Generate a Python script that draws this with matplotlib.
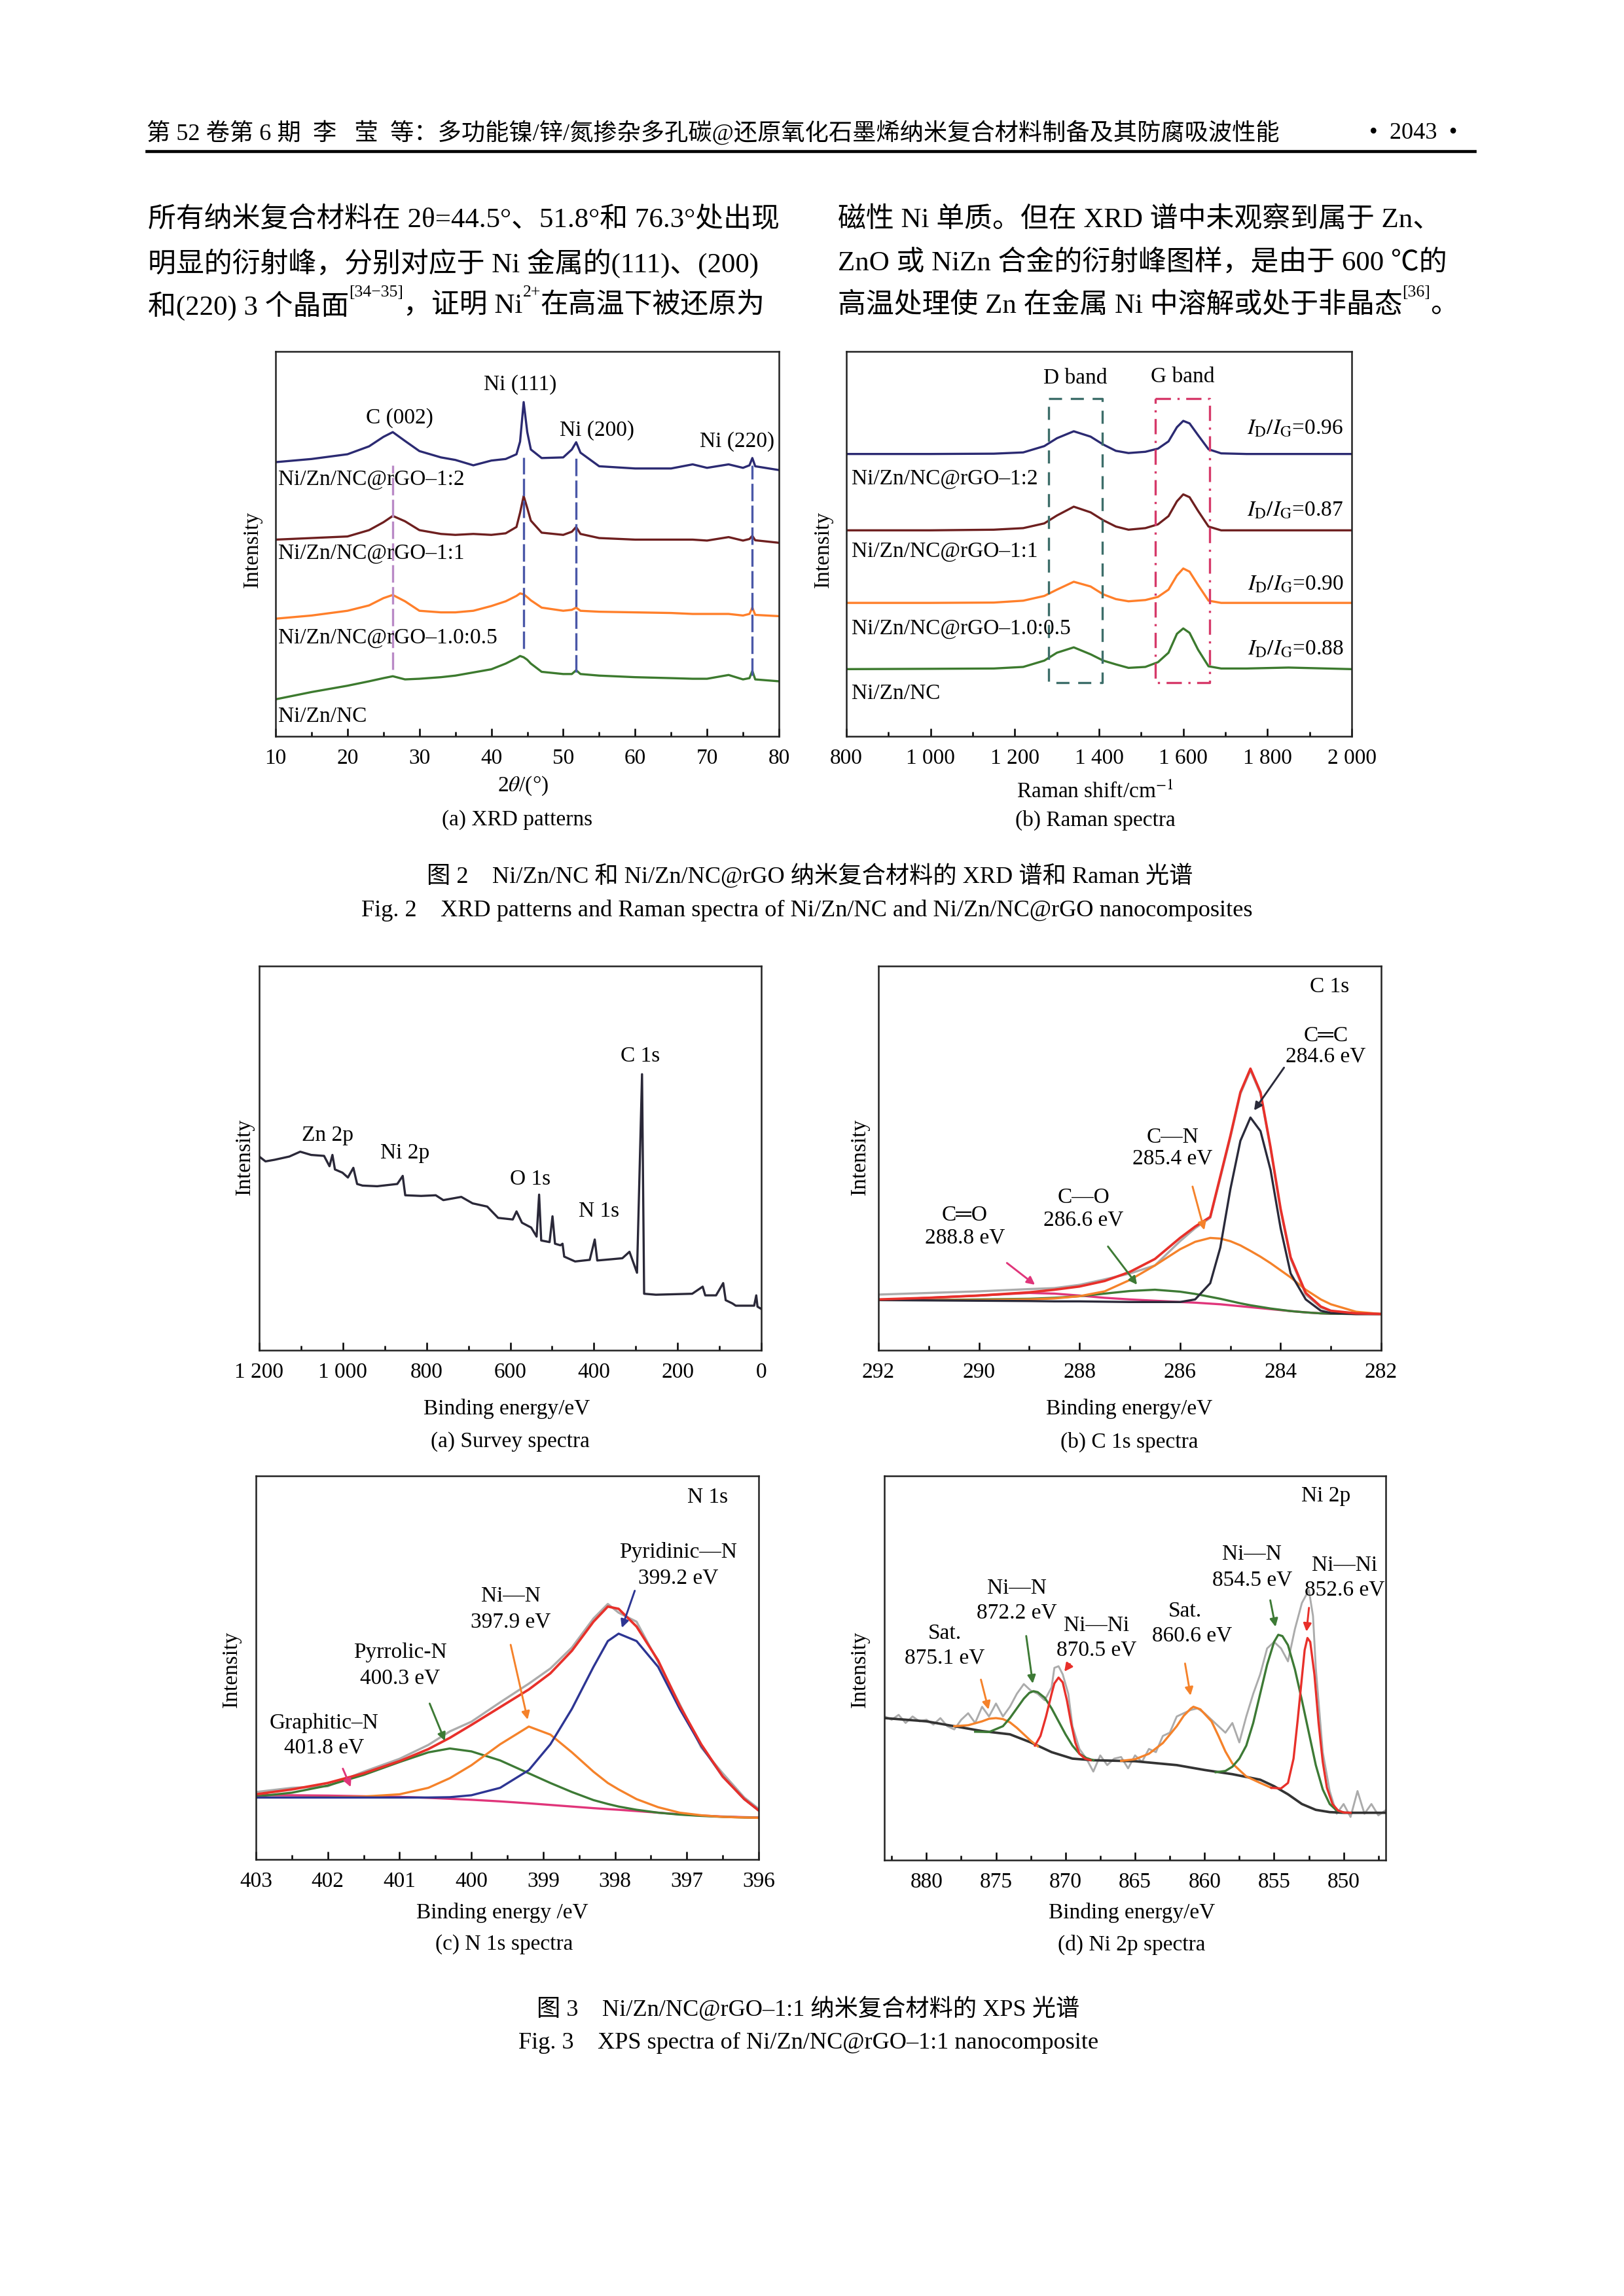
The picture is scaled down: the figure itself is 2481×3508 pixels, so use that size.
import matplotlib
matplotlib.use('Agg')
import matplotlib.pyplot as plt

plt.rcParams['font.family'] = ['Liberation Serif', 'Noto Sans CJK SC', 'DejaVu Sans']
plt.rcParams['mathtext.fontset'] = 'stix'

W, H = 2481, 3508

# ---------------- page text ----------------
header_left = '第 52 卷第 6 期  李   莹  等：多功能镍/锌/氮掺杂多孔碳@还原氧化石墨烯纳米复合材料制备及其防腐吸波性能'
header_right = '•  2043  •'

body_left = [
    [('所有纳米复合材料在 2θ=44.5°、51.8°和 76.3°处出现', False)],
    [('明显的衍射峰，分别对应于 Ni 金属的(111)、(200)', False)],
    [('和(220) 3 个晶面', False), ('[34−35]', True), ('，证明 Ni', False), ('2+', True), ('在高温下被还原为', False)],
]
body_right = [
    [('磁性 Ni 单质。但在 XRD 谱中未观察到属于 Zn、', False)],
    [('ZnO 或 NiZn 合金的衍射峰图样，是由于 600 ℃的', False)],
    [('高温处理使 Zn 在金属 Ni 中溶解或处于非晶态', False), ('[36]', True), ('。', False)],
]

cap2_cn = '图 2    Ni/Zn/NC 和 Ni/Zn/NC@rGO 纳米复合材料的 XRD 谱和 Raman 光谱'
cap2_en = 'Fig. 2    XRD patterns and Raman spectra of Ni/Zn/NC and Ni/Zn/NC@rGO nanocomposites'
cap3_cn = '图 3    Ni/Zn/NC@rGO–1:1 纳米复合材料的 XPS 光谱'
cap3_en = 'Fig. 3    XPS spectra of Ni/Zn/NC@rGO–1:1 nanocomposite'

samples = ['Ni/Zn/NC@rGO–1:2', 'Ni/Zn/NC@rGO–1:1', 'Ni/Zn/NC@rGO–1.0:0.5', 'Ni/Zn/NC']
sample_colors = ['#2b2a72', '#6e1f1f', '#ff7f2a', '#3c7a2e']

# ---------------- XRD (a.u.) ----------------
xrd_2theta = [10, 15, 20, 23, 25, 26.3, 28, 30, 33, 35, 37.5, 40, 42, 43.5, 44.0, 44.5, 45.0,
              45.5, 47, 50, 51.2, 51.8, 52.4, 55, 60, 65, 68, 70, 73, 75, 75.9, 76.3, 76.7, 80]
xrd_12 = [867, 877, 892, 917, 947, 962, 934, 902, 882, 874, 857, 872, 877, 892, 932, 1057, 962,
          907, 880, 882, 907, 930, 897, 854, 847, 847, 860, 849, 860, 849, 857, 880, 854, 842]
xrd_11 = [622, 627, 632, 652, 677, 697, 680, 652, 640, 637, 640, 637, 642, 662, 707, 760, 722,
          682, 644, 637, 647, 662, 640, 627, 622, 622, 622, 619, 630, 619, 624, 634, 620, 612]
xrd_105 = [372, 382, 397, 414, 437, 447, 427, 397, 392, 392, 397, 412, 427, 444, 452, 449, 440,
           430, 407, 397, 400, 407, 397, 394, 392, 390, 387, 387, 387, 382, 387, 407, 384, 380]
xrd_nc = [117, 140, 160, 174, 184, 190, 180, 182, 187, 192, 202, 212, 230, 247, 254, 250, 242,
          230, 204, 197, 197, 209, 197, 192, 187, 184, 182, 182, 194, 180, 184, 207, 180, 174]
xrd_peaks = [26.3, 44.5, 51.8, 76.3]
xrd_peak_names = ['C (002)', 'Ni (111)', 'Ni (200)', 'Ni (220)']

# ---------------- Raman (a.u.) ----------------
raman_shift = [800, 1000, 1150, 1220, 1270, 1300, 1340, 1380, 1410, 1440, 1470, 1510,
               1540, 1565, 1585, 1600, 1615, 1635, 1660, 1690, 1750, 1850, 2000]
raman_12 = [895, 895, 896, 900, 920, 945, 967, 950, 925, 905, 898, 902,
            912, 935, 980, 1000, 992, 955, 910, 897, 895, 895, 895]
raman_11 = [653, 653, 655, 660, 675, 700, 728, 710, 685, 665, 655, 660,
            672, 698, 745, 767, 758, 715, 665, 653, 653, 653, 653]
raman_105 = [423, 423, 424, 430, 445, 465, 490, 475, 450, 435, 428, 432,
             442, 465, 510, 532, 522, 480, 430, 423, 423, 423, 423]
raman_nc = [213, 214, 215, 220, 240, 265, 282, 260, 240, 228, 217, 220,
            235, 265, 325, 342, 328, 275, 222, 215, 215, 218, 213]
id_ig = ['0.96', '0.87', '0.90', '0.88']
d_band = [1280, 1408]
g_band = [1534, 1663]

# ---------------- XPS survey ----------------
survey_be = [1200, 1185, 1163, 1128, 1102, 1076, 1045, 1032, 1025, 1019, 1001, 988, 975, 966, 953,
             918, 870, 857, 851, 813, 778, 760, 717, 690, 655, 629, 594, 585, 572, 550, 537, 531,
             526, 506, 499, 493, 480, 475, 471, 445, 410, 398, 392, 357, 332, 315, 297, 285, 280,
             252, 165, 140, 134, 108, 91, 85, 69, 61, 17, 12, 9, 0]
survey_int = [600, 585, 590, 600, 615, 605, 602, 570, 605, 560, 550, 535, 565, 515, 510,
              508, 515, 540, 480, 478, 480, 465, 475, 455, 445, 410, 405, 430, 395, 380, 352, 482,
              340, 335, 415, 330, 325, 330, 290, 275, 280, 343, 278, 282, 285, 305, 240, 855, 175,
              172, 175, 197, 170, 170, 208, 155, 145, 138, 138, 170, 135, 128]

# ---------------- C 1s ----------------
c1s_be = [292, 291, 290, 289, 288.5, 288, 287.5, 287, 286.5, 286, 285.7, 285.4, 285.2, 285,
          284.8, 284.6, 284.4, 284.2, 284, 283.8, 283.5, 283.2, 283, 282.5, 282]
c1s_raw = [172, 177, 182, 189, 192, 202, 219, 237, 262, 337, 377, 409, 532, 657,
           792, 865, 792, 622, 432, 282, 172, 132, 121, 113, 112]
c1s_fit = [157, 162, 169, 179, 187, 197, 214, 242, 282, 347, 382, 412, 537, 662,
           797, 870, 797, 627, 437, 287, 177, 135, 122, 114, 112]
c1s_cc = [155, 154, 153, 152, 151, 151, 150, 149, 149, 149, 157, 207, 317, 497,
          647, 719, 677, 557, 377, 237, 157, 122, 115, 112, 112]
c1s_cn = [155, 155, 155, 157, 160, 167, 182, 217, 262, 312, 335, 347, 345, 337,
          324, 307, 289, 269, 247, 225, 187, 157, 142, 119, 112]
c1s_co = [155, 155, 157, 159, 162, 167, 175, 183, 187, 181, 174, 165, 159, 152,
          145, 139, 134, 129, 125, 121, 117, 114, 113, 112, 112]
c1s_c_o = [155, 162, 169, 177, 175, 169, 162, 157, 153, 149, 147, 144, 142, 139,
           136, 133, 130, 127, 124, 121, 117, 114, 113, 112, 112]

# ---------------- N 1s ----------------
n1s_be = [403, 402.5, 402, 401.5, 401, 400.6, 400.3, 400, 399.6, 399.2, 398.9, 398.6, 398.3,
          398.1, 397.95, 397.7, 397.4, 397.1, 396.8, 396.5, 396.2, 396]
n1s_raw = [209, 222, 227, 272, 312, 355, 397, 427, 487, 545, 592, 657, 747,
           792, 765, 737, 612, 482, 347, 267, 192, 157]
n1s_fit = [202, 217, 237, 267, 305, 342, 377, 417, 472, 527, 577, 647, 737,
           784, 777, 722, 617, 477, 357, 257, 187, 152]
n1s_pyridinic = [192, 192, 192, 192, 192, 192, 193, 199, 222, 277, 357, 467, 597,
                 677, 700, 677, 597, 467, 352, 257, 187, 152]
n1s_nin = [192, 192, 193, 195, 202, 222, 252, 292, 357, 412, 387, 332, 272,
           237, 217, 187, 162, 145, 137, 132, 130, 129]
n1s_pyrrolic = [195, 207, 229, 262, 302, 332, 344, 335, 307, 267, 237, 209, 184,
                172, 164, 154, 145, 139, 135, 132, 130, 129]
n1s_graphitic = [200, 199, 198, 196, 194, 191, 188, 185, 180, 174, 169, 164, 159,
                 156, 154, 150, 145, 140, 136, 133, 131, 130]

# ---------------- Ni 2p ----------------
ni_raw_be = [883, 882.5, 882, 881.5, 881, 880.5, 880, 879.5, 879, 878.5, 878, 877.5, 877, 876.5,
             876, 875.5, 875, 874.5, 874, 873.5, 873, 872.5, 872, 871.5, 871, 870.8, 870.5, 870.2,
             869.8, 869.5, 869, 868.5, 868, 867.5, 867, 866.5, 866, 865.5, 865, 864.5, 864, 863.5,
             863, 862.5, 862, 861.5, 861, 860.5, 860, 859.5, 859, 858.5, 858, 857.5, 857, 856.5,
             856, 855.5, 855, 854.5, 854, 853.5, 853, 852.5, 852.2, 852, 851.5, 851, 850.5, 850,
             849.5, 849, 848.5, 848, 847.5, 847]
ni_raw = [443, 433, 448, 423, 443, 428, 433, 418, 438, 413, 403, 433, 453, 423,
          473, 443, 483, 443, 473, 513, 543, 523, 513, 493, 533, 593, 598, 573,
          513, 413, 343, 313, 273, 323, 293, 313, 318, 283, 323, 303, 343, 333,
          383, 393, 443, 453, 463, 468, 453, 433, 413, 393, 423, 363, 443, 513,
          573, 653, 673, 653, 613, 713, 793, 833, 753, 593, 333, 213, 143, 173,
          133, 213, 143, 173, 138, 153]
ni_bg_be = [883, 880, 878, 876, 874, 872.5, 871, 869.5, 868, 865, 862, 860, 858, 856, 855,
            854, 853, 852, 851, 850, 847]
ni_bg = [438, 428, 413, 398, 388, 363, 333, 313, 308, 305, 293, 278, 265, 248, 228,
         203, 173, 155, 148, 146, 146]
sat1_be = [878, 877, 876, 875.5, 875, 874.5, 874, 873.5, 873, 872.5, 872]
sat1 = [413, 416, 428, 436, 438, 435, 425, 408, 388, 368, 351]
sat2_be = [866, 865, 864, 863, 862, 861.5, 861, 860.8, 860.3, 859.5, 859, 858.5, 858, 857, 856, 855.2]
sat2 = [306, 311, 328, 361, 413, 445, 467, 473, 465, 428, 383, 335, 298, 258, 238, 223]
nin1_be = [876.5, 875.5, 874.5, 874, 873.5, 873, 872.6, 872.3, 872, 871.5, 871, 870.5, 870,
           869.5, 869, 868.5, 868]
nin1 = [396, 395, 413, 438, 468, 498, 516, 521, 518, 501, 468, 428, 388, 353, 328, 315, 308]
nini1_be = [872.2, 871.8, 871.4, 871, 870.8, 870.5, 870.2, 869.9, 869.6, 869.3, 869, 868.6, 868.2]
nini1 = [353, 383, 443, 513, 545, 563, 548, 493, 423, 363, 328, 313, 308]
nin2_be = [859.2, 858.5, 858, 857.5, 857, 856.5, 856, 855.5, 855, 854.7, 854.4, 854, 853.5,
           853, 852.5, 852, 851.5, 851, 850.5, 850]
nin2 = [271, 275, 288, 313, 353, 423, 513, 603, 673, 695, 691, 663, 588, 493, 393, 293,
        218, 173, 153, 147]
nini2_be = [855.2, 854.5, 854, 853.6, 853.3, 853, 852.8, 852.6, 852.4, 852.1, 851.8, 851.5,
            851.2, 850.8, 850.4, 850, 849.5]
nini2 = [223, 221, 238, 313, 433, 563, 648, 685, 673, 573, 423, 303, 223, 173, 153, 147, 146]

RED = '#e8302a'
ORANGE = '#f5822a'
GREEN = '#3d7a35'
PINK = '#e0357a'
GRAY = '#ababab'
DARK = '#2a2a3a'
BLUE = '#2d3593'

fig = plt.figure(figsize=(W / 300, H / 300), dpi=300)


def put(x, y, s, **kw):
    return fig.text(x / W, 1 - y / H, s, **kw)


def axes_at(l, t, r, b):
    return fig.add_axes([l / W, 1 - b / H, (r - l) / W, (b - t) / H])


def style(ax, xlim, ylim, major, labels, minor):
    ax.set_xlim(*xlim)
    ax.set_ylim(*ylim)
    ax.set_yticks([])
    ax.set_xticks(major)
    ax.set_xticklabels(labels)
    ax.set_xticks(minor, minor=True)
    ax.tick_params(axis='x', which='major', direction='in', length=3, width=0.6, pad=4.5, labelsize=8)
    ax.tick_params(axis='x', which='minor', direction='in', length=1.6, width=0.6)
    for s in ax.spines.values():
        s.set_linewidth(0.6)
        s.set_color('#222222')


def arrow(ax, start, end, color):
    ax.annotate('', xy=end, xytext=start,
                arrowprops=dict(arrowstyle='-|>', color=color, lw=0.7, mutation_scale=6))


def two_line(ax, x, y, top, bottom, dy):
    ax.text(x, y, top, ha='center', va='center', fontsize=8)
    ax.text(x, y - dy, bottom, ha='center', va='center', fontsize=8)


renderer = fig.canvas.get_renderer()


def text_run(x, y, parts, size):
    for s, sup in parts:
        if sup:
            t = put(x, y - size * 1.9, s, fontsize=size * 0.6, va='center', ha='left')
        else:
            t = put(x, y, s, fontsize=size, va='center', ha='left')
        x += t.get_window_extent(renderer=renderer).width


# ---------------- header and body ----------------
put(224, 203, header_left, fontsize=8.7, va='center', ha='left')
put(2226, 203, header_right, fontsize=8.7, va='center', ha='right')
fig.add_artist(plt.Line2D([224 / W, 2253 / W], [1 - 231 / H, 1 - 231 / H], color='black', lw=1.1))

for i, y in enumerate([336, 402, 467]):
    text_run(226, y, body_left[i], 10.3)
    text_run(1280, y, body_right[i], 10.3)

# ---------------- (a) XRD ----------------
ax = axes_at(421, 537, 1190, 1125)
for ys, c in zip([xrd_12, xrd_11, xrd_105, xrd_nc], sample_colors):
    ax.plot(xrd_2theta, ys, color=c, lw=0.8)
ax.plot([xrd_peaks[0]] * 2, [212, 857], color='#b98ac6', lw=0.8, dashes=(8, 2))
ax.plot([xrd_peaks[1]] * 2, [277, 882], color='#4a58a8', lw=0.8, dashes=(8, 2))
ax.plot([xrd_peaks[2]] * 2, [202, 892], color='#4a58a8', lw=0.8, dashes=(8, 2))
ax.plot([xrd_peaks[3]] * 2, [192, 857], color='#4a58a8', lw=0.8, dashes=(8, 2))
for name, (px, py) in zip(xrd_peak_names, [(27.2, 1007), (44.0, 1112), (54.7, 967), (74.2, 932)]):
    ax.text(px, py, name, ha='center', va='center', fontsize=8)
for name, py in zip(samples, [812, 577, 312, 62]):
    ax.text(10.4, py, name, ha='left', va='center', fontsize=8)
style(ax, (10, 80), (0, 1217), list(range(10, 81, 10)), [str(v) for v in range(10, 81, 10)],
      list(range(15, 80, 10)))
put(385, 839, 'Intensity', fontsize=8, rotation=90, va='center', ha='center')
put(799, 1201, r'2$\theta$/(°)', fontsize=8, va='center', ha='center')
put(790, 1253, '(a) XRD patterns', fontsize=8, va='center', ha='center')

# ---------------- (b) Raman ----------------
ax = axes_at(1293, 537, 2065, 1125)
for ys, c in zip([raman_12, raman_11, raman_105, raman_nc], sample_colors):
    ax.plot(raman_shift, ys, color=c, lw=0.8)
ax.plot([d_band[0], d_band[1], d_band[1], d_band[0], d_band[0]], [1070, 1070, 170, 170, 1070],
        color='#3d6e6a', lw=0.8, dashes=(6, 4))
ax.plot([g_band[0], g_band[1], g_band[1], g_band[0], g_band[0]], [1070, 1070, 170, 170, 1070],
        color='#d63a6a', lw=0.8, dashes=(7, 3, 1, 3))
ax.text(sum(d_band) / 2, 1135, 'D band', ha='center', va='center', fontsize=8)
ax.text(sum(g_band) / 2, 1140, 'G band', ha='center', va='center', fontsize=8)
for v, py in zip(id_ig, [975, 715, 480, 275]):
    ax.text(1980, py, r'$I_{\mathrm{D}}/I_{\mathrm{G}}$=' + v, ha='right', va='center', fontsize=8)
for name, py in zip(samples, [815, 585, 340, 135]):
    ax.text(812, py, name, ha='left', va='center', fontsize=8)
raman_ticks = list(range(800, 2001, 200))
style(ax, (800, 2000), (0, 1220), raman_ticks,
      ['800', '1 000', '1 200', '1 400', '1 600', '1 800', '2 000'], list(range(900, 2000, 200)))
put(1257, 839, 'Intensity', fontsize=8, rotation=90, va='center', ha='center')
put(1673, 1210, r'Raman shift/cm$^{-1}$', fontsize=8, va='center', ha='center')
put(1673, 1253, '(b) Raman spectra', fontsize=8, va='center', ha='center')

put(1237, 1338, cap2_cn, fontsize=8.7, va='center', ha='center')
put(1233, 1391, cap2_en, fontsize=8.7, va='center', ha='center')

# ---------------- Fig 3 (a) survey ----------------
ax = axes_at(396, 1476, 1163, 2063)
ax.plot(survey_be, survey_int, color='#2a2838', lw=0.8)
for name, (px, py) in zip(['Zn 2p', 'Ni 2p', 'O 1s', 'N 1s', 'C 1s'],
                          [(1036, 665), (852, 610), (552, 530), (388, 430), (289, 910)]):
    ax.text(px, py, name, ha='center', va='center', fontsize=8)
style(ax, (1200, 0), (0, 1190), list(range(1200, -1, -200)),
      ['1 200', '1 000', '800', '600', '400', '200', '0'], list(range(1100, 0, -200)))
put(374, 1767, 'Intensity', fontsize=8, rotation=90, va='center', ha='center')
put(774, 2152, 'Binding energy/eV', fontsize=8, va='center', ha='center')
put(779, 2203, '(a) Survey spectra', fontsize=8, va='center', ha='center')

# ---------------- (b) C 1s ----------------
ax = axes_at(1342, 1476, 2110, 2063)
ax.plot(c1s_be, c1s_raw, color=GRAY, lw=0.8)
ax.plot(c1s_be, c1s_c_o, color=PINK, lw=0.8)
ax.plot(c1s_be, c1s_co, color=GREEN, lw=0.8)
ax.plot(c1s_be, c1s_cn, color=ORANGE, lw=0.8)
ax.plot(c1s_be, c1s_cc, color=DARK, lw=0.8)
ax.plot(c1s_be, c1s_fit, color=RED, lw=0.9)
arrow(ax, (283.87, 887), (284.59, 727), DARK)
arrow(ax, (285.78, 522), (285.49, 355), ORANGE)
arrow(ax, (287.50, 334), (286.79, 189), GREEN)
arrow(ax, (289.53, 280), (288.80, 192), PINK)
two_line(ax, 283.10, 972, 'C═C', '284.6 eV', 65)
two_line(ax, 286.15, 657, 'C—N', '285.4 eV', 65)
two_line(ax, 287.92, 472, 'C—O', '286.6 eV', 70)
two_line(ax, 290.28, 417, 'C═O', '288.8 eV', 70)
ax.text(283.03, 1122, 'C 1s', ha='center', va='center', fontsize=8)
style(ax, (292, 282), (0, 1187), list(range(292, 281, -2)),
      [str(v) for v in range(292, 281, -2)], list(range(291, 282, -2)))
put(1313, 1767, 'Intensity', fontsize=8, rotation=90, va='center', ha='center')
put(1725, 2152, 'Binding energy/eV', fontsize=8, va='center', ha='center')
put(1725, 2203, '(b) C 1s spectra', fontsize=8, va='center', ha='center')

# ---------------- (c) N 1s ----------------
ax = axes_at(391, 2255, 1159, 2841)
ax.plot(n1s_be, n1s_raw, color=GRAY, lw=0.8)
ax.plot(n1s_be, n1s_graphitic, color=PINK, lw=0.8)
ax.plot(n1s_be, n1s_pyrrolic, color=GREEN, lw=0.8)
ax.plot(n1s_be, n1s_nin, color=ORANGE, lw=0.8)
ax.plot(n1s_be, n1s_pyridinic, color=BLUE, lw=0.8)
ax.plot(n1s_be, n1s_fit, color=RED, lw=0.9)
arrow(ax, (397.70, 849), (397.93, 702), BLUE)
arrow(ax, (399.47, 682), (399.20, 417), ORANGE)
arrow(ax, (400.61, 499), (400.34, 352), GREEN)
arrow(ax, (401.82, 297), (401.65, 209), PINK)
two_line(ax, 397.12, 952, 'Pyridinic—N', '399.2 eV', 80)
two_line(ax, 399.45, 817, 'Ni—N', '397.9 eV', 80)
two_line(ax, 400.99, 642, 'Pyrrolic-N', '400.3 eV', 80)
two_line(ax, 402.05, 422, 'Graphitic–N', '401.8 eV', 75)
ax.text(396.71, 1122, 'N 1s', ha='center', va='center', fontsize=8)
style(ax, (403, 396), (0, 1189), list(range(403, 395, -1)),
      [str(v) for v in range(403, 395, -1)], [402.5, 401.5, 400.5, 399.5, 398.5, 397.5, 396.5])
put(353, 2550, 'Intensity', fontsize=8, rotation=90, va='center', ha='center')
put(767, 2922, 'Binding energy /eV', fontsize=8, va='center', ha='center')
put(770, 2971, '(c) N 1s spectra', fontsize=8, va='center', ha='center')

# ---------------- (d) Ni 2p ----------------
ax = axes_at(1351, 2255, 2117, 2842)
ax.plot(ni_raw_be, ni_raw, color=GRAY, lw=0.7)
ax.plot(ni_bg_be, ni_bg, color='#333333', lw=0.9)
ax.plot(sat1_be, sat1, color=ORANGE, lw=0.8)
ax.plot(sat2_be, sat2, color=ORANGE, lw=0.8)
ax.plot(nin1_be, nin1, color=GREEN, lw=0.8)
ax.plot(nin2_be, nin2, color=GREEN, lw=0.8)
ax.plot(nini1_be, nini1, color=RED, lw=0.8)
ax.plot(nini2_be, nini2, color=RED, lw=0.8)
arrow(ax, (876.18, 573), (875.44, 448), ORANGE)
arrow(ax, (861.47, 623), (860.94, 491), ORANGE)
arrow(ax, (872.88, 708), (872.30, 528), GREEN)
arrow(ax, (855.35, 818), (854.82, 703), GREEN)
arrow(ax, (869.45, 618), (870.32, 568), RED)
arrow(ax, (852.45, 795), (852.71, 688), RED)
two_line(ax, 878.68, 698, 'Sat.', '875.1 eV', 75)
two_line(ax, 873.49, 838, 'Ni—N', '872.2 eV', 75)
two_line(ax, 867.79, 723, 'Ni—Ni', '870.5 eV', 75)
ax.text(861.41, 768, 'Sat.', ha='center', va='center', fontsize=8)
ax.text(860.89, 691, '860.6 eV', ha='center', va='center', fontsize=8)
two_line(ax, 856.58, 943, 'Ni—N', '854.5 eV', 80)
two_line(ax, 849.94, 908, 'Ni—Ni', '852.6 eV', 75)
ax.text(851.26, 1123, 'Ni 2p', ha='center', va='center', fontsize=8)
style(ax, (883.03, 846.97), (0, 1185), list(range(880, 849, -5)),
      [str(v) for v in range(880, 849, -5)],
      [882.5, 877.5, 872.5, 867.5, 862.5, 857.5, 852.5, 847.5])
put(1313, 2550, 'Intensity', fontsize=8, rotation=90, va='center', ha='center')
put(1729, 2922, 'Binding energy/eV', fontsize=8, va='center', ha='center')
put(1729, 2971, '(d) Ni 2p spectra', fontsize=8, va='center', ha='center')

put(1235, 3069, cap3_cn, fontsize=8.7, va='center', ha='center')
put(1235, 3121, cap3_en, fontsize=8.7, va='center', ha='center')

fig.savefig('out.png', dpi=300)
